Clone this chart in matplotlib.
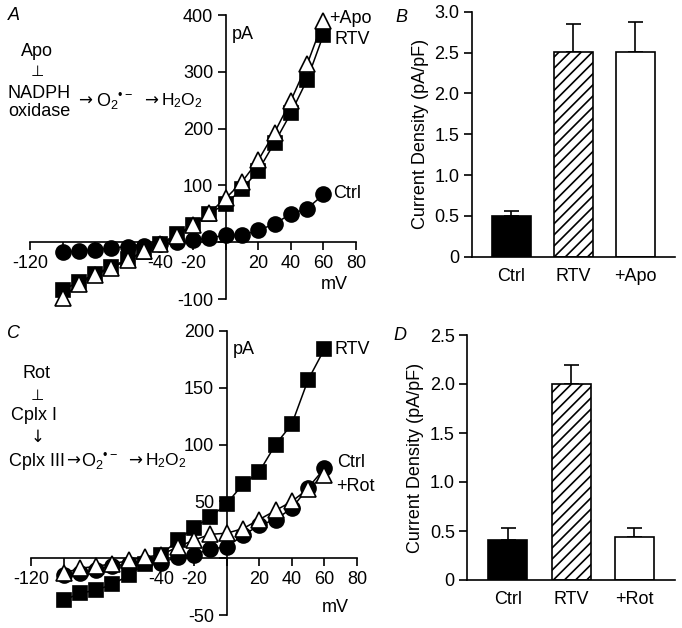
import matplotlib
matplotlib.use("Agg")
import matplotlib.pyplot as plt
import numpy as np

plt.rcParams['font.family'] = ['Liberation Sans', 'DejaVu Sans']
plt.rcParams['mathtext.fontset'] = 'custom'
plt.rcParams['mathtext.rm'] = 'Liberation Sans'
plt.rcParams['mathtext.it'] = 'Liberation Sans:italic'
plt.rcParams['font.size'] = 13
plt.rcParams['hatch.linewidth'] = 1.2

# ---------------- data ----------------
voltage = [-100, -90, -80, -70, -60, -50, -40, -30, -20, -10, 0, 10, 20, 30, 40, 50, 60]

a_ctrl = [-17, -16, -13, -10, -8, -6, -4, 0, 3, 8, 12, 12, 21, 32, 50, 59, 84]
a_rtv = [-84, -70, -56, -43, -30, -17, -3, 14, 30, 50, 68, 93, 126, 175, 227, 286, 365]
a_apo = [-98, -73, -58, -45, -32, -15, -4, 11, 30, 52, 77, 106, 144, 193, 249, 313, 390]

c_ctrl = [-15, -13, -10, -7, -5, -3, -4, 1, 3, 8, 10, 20, 29, 34, 44, 62, 79]
c_rtv = [-37, -31, -28, -23, -15, -5, 3, 16, 27, 36, 48, 65, 76, 100, 118, 157, 184]
c_rot = [-13, -9, -7, -5, -2, 1, 3, 10, 16, 21, 22, 26, 34, 42, 50, 61, 73]

bar_cats_b = ['Ctrl', 'RTV', '+Apo']
bar_vals_b = [0.50, 2.51, 2.51]
bar_err_b = [0.06, 0.34, 0.36]

bar_cats_d = ['Ctrl', 'RTV', '+Rot']
bar_vals_d = [0.41, 2.00, 0.44]
bar_err_d = [0.12, 0.19, 0.09]

iv_xticks = [-120, -100, -80, -60, -40, -20, 0, 20, 40, 60, 80]
iv_xticklabels = ['-120', '', '', '', '-40', '-20', '', '20', '40', '60', '80']
a_yticks = [-100, 0, 100, 200, 300, 400]
a_yticklabels = ['-100', '', '100', '200', '300', '400']
c_yticks = [-50, 0, 50, 100, 150, 200]
c_yticklabels = ['-50', '', '50', '100', '150', '200']
b_yticks = [0, 0.5, 1.0, 1.5, 2.0, 2.5, 3.0]
b_yticklabels = ['0', '0.5', '1.0', '1.5', '2.0', '2.5', '3.0']
d_yticks = [0, 0.5, 1.0, 1.5, 2.0, 2.5]
d_yticklabels = ['0', '0.5', '1.0', '1.5', '2.0', '2.5']

W, H = 682, 628
fig = plt.figure(figsize=(W / 100, H / 100), dpi=100)


def px_axes(left, right, top, bottom):
    return fig.add_axes([left / W, 1 - bottom / H, (right - left) / W, (bottom - top) / H])


def iv_axes(ax, ylim, yticks, yticklabels):
    ax.set_xlim(-120, 80)
    ax.set_ylim(*ylim)
    for s in ['top', 'right']:
        ax.spines[s].set_visible(False)
    ax.spines['left'].set_position(('data', 0))
    ax.spines['bottom'].set_position(('data', 0))
    ax.spines['left'].set_linewidth(1.2)
    ax.spines['bottom'].set_linewidth(1.2)
    ax.set_xticks(iv_xticks)
    ax.set_xticklabels(iv_xticklabels)
    ax.set_yticks(yticks)
    ax.set_yticklabels(yticklabels)
    ax.tick_params(axis='both', direction='out', length=6, width=1.2, labelsize=13)
    ax.tick_params(axis='x', pad=3)
    ax.tick_params(axis='y', pad=3)
    ax.patch.set_visible(False)


def iv_series(ax, y, marker, face, ms):
    ax.plot(voltage, y, color='black', lw=1.1, marker=marker, ms=ms,
            mfc=face, mec='black', mew=1.2, clip_on=False, zorder=3)


# ---------------- Panel A ----------------
axA = px_axes(30, 356, 15, 299)
iv_axes(axA, (-100, 400), a_yticks, a_yticklabels)
iv_series(axA, a_ctrl, 'o', 'black', 10.8)
iv_series(axA, a_rtv, 's', 'black', 10)
iv_series(axA, a_apo, '^', 'white', 11)
axA.text(4, 366, 'pA', ha='left', va='center')
axA.text(66.5, -75, 'mV', ha='center', va='center')
axA.text(63.5, 394, '+Apo', ha='left', va='center')
axA.text(67, 357, 'RTV', ha='left', va='center')
axA.text(66, 86, 'Ctrl', ha='left', va='center')

# ---------------- Panel C ----------------
axC = px_axes(31, 357, 331, 615)
iv_axes(axC, (-50, 200), c_yticks, c_yticklabels)
iv_series(axC, c_ctrl, 'o', 'black', 10.8)
iv_series(axC, c_rtv, 's', 'black', 10)
iv_series(axC, c_rot, '^', 'white', 11)
axC.text(4, 184, 'pA', ha='left', va='center')
axC.text(66.5, -43, 'mV', ha='center', va='center')
axC.text(66.5, 184, 'RTV', ha='left', va='center')
axC.text(68, 84, 'Ctrl', ha='left', va='center')
axC.text(67, 63, '+Rot', ha='left', va='center')


# ---------------- bar panels ----------------
def bar_panel(ax, cats, vals, errs, ymax, yticks, yticklabels):
    x = np.arange(len(cats))
    faces = ['black', 'white', 'white']
    hatches = [None, '///', None]
    for i in range(len(cats)):
        ax.bar(x[i], vals[i], width=0.62, color=faces[i], edgecolor='black',
               linewidth=1.2, hatch=hatches[i], zorder=2)
    ax.errorbar(x, vals, yerr=[np.zeros(len(vals)), errs], fmt='none',
                ecolor='black', elinewidth=1.2, capsize=5.4, capthick=1.2, zorder=1)
    ax.set_xlim(-0.64, 2.64)
    ax.set_ylim(0, ymax)
    for s in ['top', 'right']:
        ax.spines[s].set_visible(False)
    ax.spines['left'].set_linewidth(1.2)
    ax.spines['bottom'].set_linewidth(1.2)
    ax.set_xticks(x)
    ax.set_xticklabels(cats)
    ax.set_yticks(yticks)
    ax.set_yticklabels(yticklabels)
    ax.tick_params(axis='x', length=0, pad=8, labelsize=13)
    ax.tick_params(axis='y', direction='out', length=6, width=1.2, pad=3, labelsize=13)
    ax.set_ylabel('Current Density (pA/pF)', fontsize=13, labelpad=4)
    ax.patch.set_visible(False)


axB = px_axes(471.7, 675, 11.7, 256.7)
bar_panel(axB, bar_cats_b, bar_vals_b, bar_err_b, 3.0, b_yticks, b_yticklabels)

axD = px_axes(467.3, 675, 335, 580)
bar_panel(axD, bar_cats_d, bar_vals_d, bar_err_d, 2.5, d_yticks, d_yticklabels)


# ---------------- panel letters ----------------
def ftext(x, y, s, **kw):
    fig.text(x / W, 1 - y / H, s, **kw)


ftext(14, 16, 'A', style='italic', ha='center', va='center', fontsize=13)
ftext(401, 17, 'B', style='italic', ha='center', va='center', fontsize=13)
ftext(13, 333, 'C', style='italic', ha='center', va='center', fontsize=13)
ftext(400, 335, 'D', style='italic', ha='center', va='center', fontsize=13)

# ---------------- schematic annotations ----------------
arrow_kw = dict(ha='center', va='center', fontsize=12, family=['DejaVu Sans'])
o2 = 'O$_2$$^{\u2022\u2212}$'
h2o2 = 'H$_2$O$_2$'

ftext(37, 52, 'Apo', ha='center', va='center')
ftext(37, 72, '\u22a5', ha='center', va='center', fontsize=11, family=['DejaVu Sans'])
ftext(39, 93, 'NADPH', ha='center', va='center')
ftext(39, 111, 'oxidase', ha='center', va='center')
ftext(85, 101, '\u2192', **arrow_kw)
ftext(96, 101, o2, ha='left', va='center')
ftext(151, 101, '\u2192', **arrow_kw)
ftext(161, 101, h2o2, ha='left', va='center', fontsize=12.5)

ftext(37, 374, 'Rot', ha='center', va='center')
ftext(37, 396, '\u22a5', ha='center', va='center', fontsize=11, family=['DejaVu Sans'])
ftext(34, 415, 'Cplx I', ha='center', va='center')
ftext(38, 437, '\u2193', ha='center', va='center', fontsize=12, family=['DejaVu Sans'])
ftext(9, 461, 'Cplx III', ha='left', va='center')
ftext(72.5, 461, '\u2192', **arrow_kw)
ftext(81, 461, o2, ha='left', va='center')
ftext(135, 461, '\u2192', **arrow_kw)
ftext(145, 461, h2o2, ha='left', va='center', fontsize=12.5)

fig.savefig('out.png', dpi=100)
